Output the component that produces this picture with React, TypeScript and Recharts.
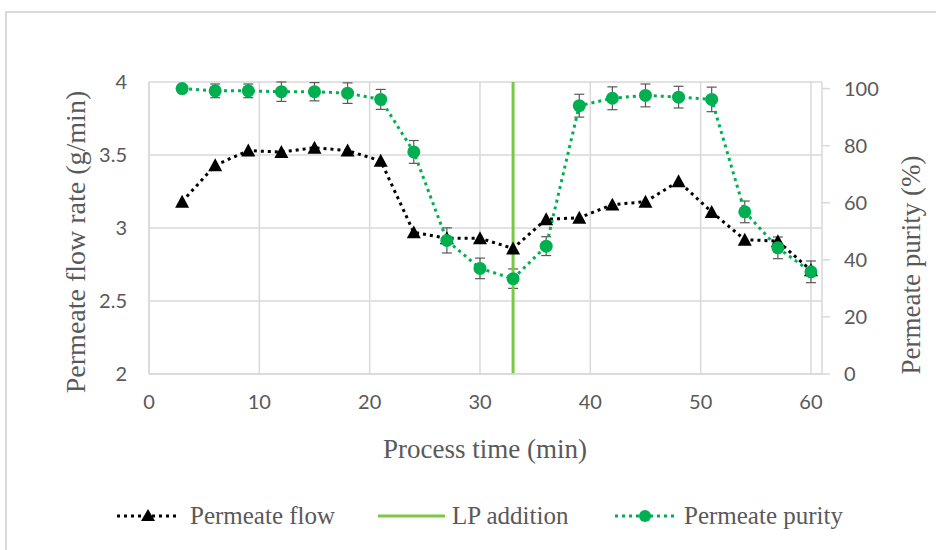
import React from 'react';
import {
  ComposedChart, Line, XAxis, YAxis, CartesianGrid, ReferenceLine, ErrorBar, Label,
} from 'recharts';

const times = [3, 6, 9, 12, 15, 18, 21, 24, 27, 30, 33, 36, 39, 42, 45, 48, 51, 54, 57, 60];
const flowValues = [3.18, 3.43, 3.53, 3.52, 3.55, 3.53, 3.46, 2.97, 2.93, 2.93, 2.86, 3.06, 3.07, 3.16, 3.18, 3.32, 3.11, 2.92, 2.91, 2.71];
const purityValues = [100, 99.2, 99.2, 98.9, 98.9, 98.4, 96.2, 77.8, 46.8, 37.0, 33.4, 44.8, 94.0, 96.6, 97.6, 97.0, 96.2, 56.8, 44.2, 35.8];
const purityErrors = [0.3, 2.4, 2.4, 3.4, 3.2, 3.6, 3.5, 4.0, 4.4, 3.6, 3.4, 3.3, 4.0, 4.0, 4.0, 3.8, 4.3, 3.8, 3.8, 3.8];
const lpAdditionTime = 33;

const xTicks = [0, 10, 20, 30, 40, 50, 60];
const leftTicks = [2, 2.5, 3, 3.5, 4];
const rightTicks = [0, 20, 40, 60, 80, 100];

const data = times.map((t, i) => ({
  time: t,
  flow: flowValues[i],
  purity: purityValues[i],
  purityErr: purityErrors[i],
}));

const GRAY = '#595959';
const GRID = '#d9d9d9';
const GREEN = '#00b050';
const LP_GREEN = '#7ac943';
const SERIF = '"Liberation Serif", "DejaVu Serif", serif';
const TICK_FONT = 'Lato, "Open Sans", sans-serif';

const Triangle = (props: any) => {
  const { cx, cy } = props;
  if (cx == null || cy == null) return null;
  const s = 7;
  return <path d={`M${cx},${cy - s} L${cx + s},${cy + s * 0.85} L${cx - s},${cy + s * 0.85} Z`} fill="#000" />;
};

const tickStyle = { fontFamily: TICK_FONT, fontSize: 20, fill: GRAY };

const LegendBox = () => (
  <svg width={936} height={40} style={{ position: 'absolute', left: 0, top: 496 }}>
    <g>
      <line x1={117} x2={180} y1={20} y2={20} stroke="#000" strokeWidth={3} strokeDasharray="3 4" />
      <path d="M148,13 L155,25 L141,25 Z" fill="#000" />
      <text x={190} y={28} fontFamily={SERIF} fontSize={25} fill={GRAY}>Permeate flow</text>
    </g>
    <g>
      <line x1={378} x2={445} y1={20} y2={20} stroke={LP_GREEN} strokeWidth={3} />
      <text x={452} y={28} fontFamily={SERIF} fontSize={25} fill={GRAY}>LP addition</text>
    </g>
    <g>
      <line x1={615} x2={675} y1={20} y2={20} stroke={GREEN} strokeWidth={3} strokeDasharray="3 4" />
      <circle cx={645} cy={20} r={6} fill={GREEN} />
      <text x={684} y={28} fontFamily={SERIF} fontSize={25} fill={GRAY}>Permeate purity</text>
    </g>
  </svg>
);

export default function App() {
  return (
    <div style={{ position: 'absolute', left: 0, top: 0, width: 936, height: 550, overflow: 'hidden', background: '#fff' }}>
      <div style={{ position: 'absolute', left: 5, top: 11, width: 1000, height: 600, borderTop: `2px solid ${GRID}`, borderLeft: `2px solid ${GRID}` }} />
      <div style={{ position: 'absolute', left: 0, top: 0 }}>
        <ComposedChart width={936} height={550} data={data} margin={{ top: 82, right: 0, bottom: 126, left: 0 }}>
          <CartesianGrid stroke={GRID} strokeWidth={1.5} xAxisId="x" yAxisId="left" verticalValues={xTicks} horizontalValues={leftTicks} />
          <XAxis
            dataKey="time"
            type="number"
            domain={[0, 61]}
            ticks={xTicks}
            height={50}
            axisLine={{ stroke: GRID, strokeWidth: 1.5 }}
            tickLine={false}
            tickSize={8}
            tickMargin={13}
            tick={tickStyle}
            xAxisId="x"
          >
            <Label
              content={(p: any) => {
                const vb = p.viewBox || { x: 149, y: 374, width: 673 };
                return (
                  <text x={485} y={vb.y + 84} textAnchor="middle" fontFamily={SERIF} fontSize={27} fill={GRAY}>
                    Process time (min)
                  </text>
                );
              }}
            />
          </XAxis>
          <YAxis
            yAxisId="left"
            orientation="left"
            domain={[2, 4]}
            ticks={leftTicks}
            width={149}
            axisLine={{ stroke: GRID, strokeWidth: 1.5 }}
            tickLine={false}
            tickSize={8}
            tickMargin={14}
            tick={tickStyle}
          >
            <Label
              content={() => (
                <text x={79} y={242} transform="rotate(-90, 79, 242)" textAnchor="middle" dominantBaseline="middle" fontFamily={SERIF} fontSize={28} fill={GRAY}>
                  Permeate flow rate (g/min)
                </text>
              )}
            />
          </YAxis>
          <YAxis
            yAxisId="right"
            orientation="right"
            domain={[0, 102]}
            ticks={rightTicks}
            width={114}
            axisLine={{ stroke: GRID, strokeWidth: 1.5 }}
            tickLine={{ stroke: GRID, strokeWidth: 1.5 }}
            tickSize={8}
            tickMargin={14}
            tick={tickStyle}
          >
            <Label
              content={() => (
                <text x={914} y={265} transform="rotate(-90, 914, 265)" textAnchor="middle" dominantBaseline="middle" fontFamily={SERIF} fontSize={27} fill={GRAY}>
                  Permeate purity (%)
                </text>
              )}
            />
          </YAxis>
          <Line
            xAxisId="x"
            yAxisId="left"
            dataKey="flow"
            name="Permeate flow"
            stroke="#000"
            strokeWidth={3}
            strokeDasharray="3 4"
            dot={<Triangle />}
            activeDot={false}
            isAnimationActive={false}
          />
          <Line
            xAxisId="x"
            yAxisId="right"
            dataKey="purity"
            name="Permeate purity"
            stroke={GREEN}
            strokeWidth={3}
            strokeDasharray="3 4"
            dot={{ r: 6.5, fill: GREEN, stroke: 'none' }}
            activeDot={false}
            isAnimationActive={false}
          >
            <ErrorBar dataKey="purityErr" direction="y" width={5} stroke={GRAY} strokeWidth={1.2} isAnimationActive={false} />
          </Line>
          <ReferenceLine xAxisId="x" yAxisId="left" x={lpAdditionTime} stroke={LP_GREEN} strokeWidth={3} />
        </ComposedChart>
      </div>
      <LegendBox />
    </div>
  );
}
